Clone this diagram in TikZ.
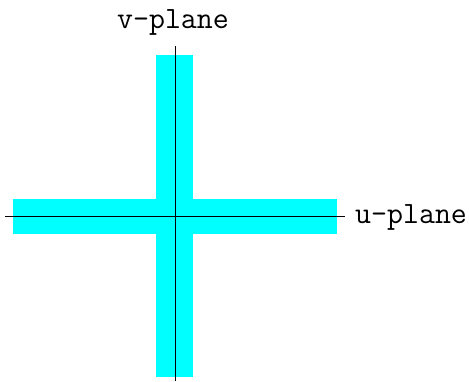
\documentclass[tikz,border=0pt]{standalone}
\definecolor{pcyan}{RGB}{0,255,255}
\begin{document}
\begin{tikzpicture}[x=1pt,y=-1pt,
  band/.style={fill=pcyan, draw=none},
  axis/.style={draw=black, line width=0.8pt},
  lab/.style={font=\ttfamily\fontsize{31}{36}\selectfont, inner sep=0pt}]
\useasboundingbox (0,0) rectangle (469,381);
\fill[band] (156,55) rectangle (193,377);
\fill[band] (13,199) rectangle (337,234);
\coordinate (vtop) at (175,46);
\coordinate (vbot) at (175,381);
\coordinate (uleft) at (5,216);
\coordinate (uright) at (345,216);
\draw[axis] (vtop) -- (vbot);
\draw[axis] (uleft) -- (uright);
\node[lab, anchor=base] (vlab) at (173,28) {v-plane};
\node[lab, anchor=base west] (ulab) at (355,223) {u-plane};
\end{tikzpicture}
\end{document}
